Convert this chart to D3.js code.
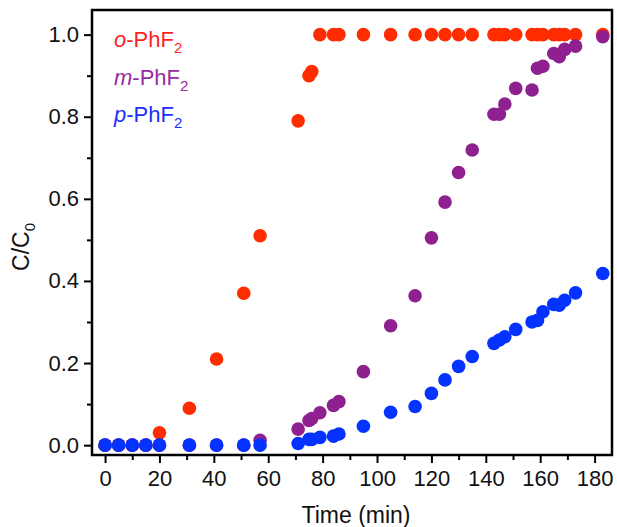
<!DOCTYPE html>
<meta charset="utf-8">
<title>C/C0 vs time</title>
<script src="https://d3js.org/d3.v7.min.js"></script>
<style>
  body { margin: 0; background: #fff; }
  text { font-family: "Liberation Sans", Arial, Helvetica, sans-serif; }
  .tick text { font-size: 22px; fill: #111; }
</style>
<div id="chart"></div>
<script>
// sampling times (min)
var times = [0, 5, 10, 15, 20, 31, 41, 51, 57, 71, 75, 76, 79, 84, 86, 95, 105, 114, 120,
             125, 130, 135, 143, 145, 147, 151, 157, 159, 161, 165, 167, 169, 173, 183];

// C/C0 for each isomer (red hidden under blue at t < 20)
var orthoVals = [0, 0, 0, 0, 0.03, 0.09, 0.21, 0.37, 0.51, 0.79, 0.90, 0.91, 1, 1, 1, 1, 1, 1, 1,
                 1, 1, 1, 1, 1, 1, 1, 1, 1, 1, 1, 1, 1, 1, 1];
var metaVals  = [0, 0, 0, 0, 0, 0, 0, 0, 0.012, 0.039, 0.06, 0.065, 0.079, 0.097, 0.106, 0.179, 0.291, 0.364, 0.505,
                 0.592, 0.664, 0.719, 0.806, 0.806, 0.831, 0.869, 0.865, 0.918, 0.923, 0.954, 0.946, 0.964, 0.972, 0.995];
var paraVals  = [0, 0, 0, 0, 0, 0, 0, 0, 0, 0.004, 0.014, 0.014, 0.019, 0.022, 0.027, 0.046, 0.080, 0.094, 0.126,
                 0.159, 0.192, 0.216, 0.248, 0.256, 0.264, 0.282, 0.300, 0.304, 0.325, 0.343, 0.341, 0.353, 0.371, 0.418];

var seriesNames = ["o", "m", "p"];
var seriesColors = ["#ff2c00", "#8e2090", "#0433ff"];
var legendColors = ["#ff1f1f", "#9a2aa0", "#1a2cff"];

var xTicks = [0, 20, 40, 60, 80, 100, 120, 140, 160, 180];
var yTicks = [0, 0.2, 0.4, 0.6, 0.8, 1.0];

var W = 617, H = 527;
var margin = {top: 10, right: 5, bottom: 72, left: 92};

var svg = d3.select("#chart").append("svg")
    .attr("width", W)
    .attr("height", H);

var x = d3.scaleLinear()
    .domain([-4.8, 186.4])
    .range([margin.left, W - margin.right]);

var y = d3.scaleLinear()
    .domain([-0.024, 1.06])
    .range([H - margin.bottom, margin.top]);

// minor ticks
svg.append("g")
    .attr("transform", "translate(0," + (H - margin.bottom) + ")")
    .call(d3.axisBottom(x).tickValues(d3.range(10, 190, 20)).tickSize(5).tickFormat(""))
    .call(function(g) { g.select(".domain").remove(); })
    .selectAll("line").attr("stroke", "#000").attr("stroke-width", 2);

svg.append("g")
    .attr("transform", "translate(" + margin.left + ",0)")
    .call(d3.axisLeft(y).tickValues(d3.range(0.1, 1.0, 0.2)).tickSize(5).tickFormat(""))
    .call(function(g) { g.select(".domain").remove(); })
    .selectAll("line").attr("stroke", "#000").attr("stroke-width", 2);

// major ticks
var xa = svg.append("g")
    .attr("transform", "translate(0," + (H - margin.bottom) + ")")
    .call(d3.axisBottom(x).tickValues(xTicks).tickSize(8).tickPadding(7).tickFormat(d3.format("d")));
xa.select(".domain").remove();
xa.selectAll("line").attr("stroke", "#000").attr("stroke-width", 2);

var ya = svg.append("g")
    .attr("transform", "translate(" + margin.left + ",0)")
    .call(d3.axisLeft(y).tickValues(yTicks).tickSize(8).tickPadding(5).tickFormat(d3.format(".1f")));
ya.select(".domain").remove();
ya.selectAll("line").attr("stroke", "#000").attr("stroke-width", 2);

// points: red first, then purple, then blue on top
var allVals = [orthoVals, metaVals, paraVals];
allVals.forEach(function(vals, i) {
  svg.append("g")
    .selectAll("circle")
    .data(times.map(function(t, j) { return {t: t, v: vals[j]}; }))
    .enter()
    .append("circle")
      .attr("cx", function(d) { return x(d.t); })
      .attr("cy", function(d) { return y(d.v); })
      .attr("r", 6.8)
      .attr("fill", seriesColors[i]);
});

// frame
svg.append("rect")
    .attr("x", margin.left)
    .attr("y", margin.top)
    .attr("width", W - margin.left - margin.right)
    .attr("height", H - margin.top - margin.bottom)
    .attr("fill", "none")
    .attr("stroke", "#000")
    .attr("stroke-width", 2.5);

// legend
var legend = svg.append("g");
seriesNames.forEach(function(n, i) {
  var t = legend.append("text")
      .attr("x", 114)
      .attr("y", 47 + i * 37.5)
      .attr("font-size", 22)
      .attr("fill", legendColors[i]);
  t.append("tspan").attr("font-style", "italic").text(n);
  t.append("tspan").text("-PhF");
  t.append("tspan").attr("font-size", 15).attr("dy", 6).text("2");
});

// axis titles
svg.append("text")
    .attr("x", 356)
    .attr("y", 523)
    .attr("text-anchor", "middle")
    .attr("font-size", 23)
    .attr("fill", "#111")
    .text("Time (min)");

var yt = svg.append("text")
    .attr("transform", "translate(29,247) rotate(-90)")
    .attr("text-anchor", "middle")
    .attr("font-size", 23)
    .attr("fill", "#111");
yt.append("tspan").text("C/C");
yt.append("tspan").attr("font-size", 15).attr("dy", 6).text("0");
</script>
